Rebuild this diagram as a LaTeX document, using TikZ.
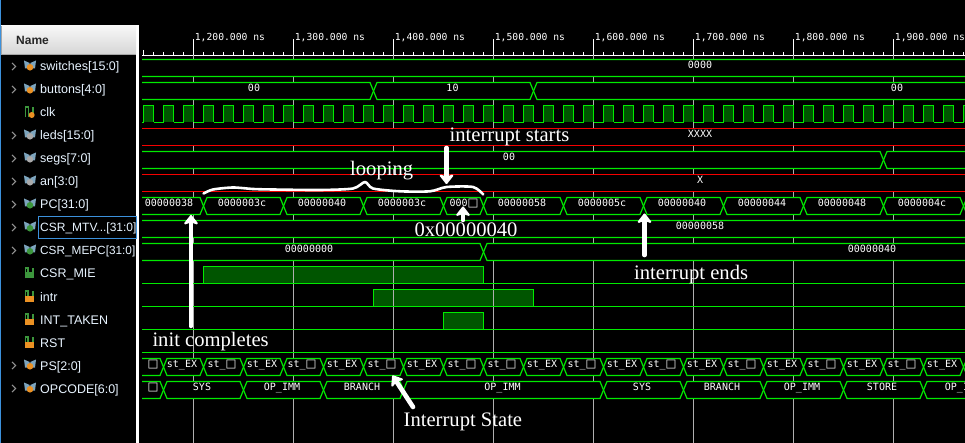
\documentclass[tikz,border=0pt]{standalone}
\usepackage{fontspec}
\setmainfont{Liberation Sans}
\newfontfamily\wave{DejaVu Sans Mono}
\newfontfamily\boxf{DejaVu Sans}
\newfontfamily\serifnote{Liberation Serif}
\usetikzlibrary{arrows.meta}
\definecolor{wgreen}{RGB}{0,235,0}
\definecolor{wfill}{RGB}{0,85,0}
\definecolor{wred}{RGB}{245,0,0}
\definecolor{wgrid}{RGB}{175,175,175}
\definecolor{selblue}{RGB}{60,145,220}
\definecolor{namecol}{RGB}{232,244,255}
\definecolor{icobus}{RGB}{125,165,190}
\definecolor{icogreen}{RGB}{60,150,60}
\definecolor{icoorange}{RGB}{235,145,35}
\definecolor{icogray}{RGB}{170,170,170}
\newcommand{\bx}{{\boxf\fontsize{11.5}{11.5}\selectfont □}}
\newcommand{\mtvname}{{\fontsize{12}{12}\selectfont CSR\_MTV{.}{.}{.}[31:0]}}
\newcommand{\mepcname}{{\fontsize{11.8}{12}\selectfont CSR\_MEPC[31:0]}}
\tikzset{
  wire/.style={draw=wgreen,line width=1.2pt},
  pulse/.style={draw=wgreen,line width=1.5pt},
  redwire/.style={draw=wred,line width=1.2pt},
  gridline/.style={draw=wgrid,line width=1pt},
  wlabel/.style={text=white,font=\wave\fontsize{10}{10}\selectfont,inner sep=0pt,anchor=base},
  ticklabel/.style={text=white,font=\wave\fontsize{9.7}{10}\selectfont,inner sep=0pt,anchor=base west},
  signame/.style={text=namecol,font=\fontsize{12.5}{12.5}\selectfont,inner sep=0pt,anchor=base west},
  note/.style={text=white,font=\serifnote\fontsize{20.6}{20.6}\selectfont,inner sep=0pt,anchor=base west},
  notearrow/.style={draw=white,line width=4.6pt,line cap=round,-{Stealth[length=11pt,width=17pt,inset=3pt,round]}},
  chev/.style={draw=gray!85,line width=1.1pt},
}
\newcommand{\busicon}[2]{%
  \fill[icobus] (24,#1-6)--(29.7,#1-3.5)--(29.7,#1+2)--(25,#1+2)--cycle;
  \fill[icobus] (36,#1-6)--(30.3,#1-3.5)--(30.3,#1+2)--(35,#1+2)--cycle;
  \fill[#2] (30,#1+0.8) circle (3.3pt);
}
\newcommand{\biticon}[2]{%
  \draw[icogreen,line width=1.1pt] (25.5,#1+5)--(25.5,#1-5.5)--(28,#1-5.5)--(28,#1+5);
  \draw[icogreen,line width=1.1pt] (33,#1+5)--(33,#1-5.5);
  \fill[#2] (25,#1-1) rectangle (34,#1+5);
}
\newcommand{\clkicon}[1]{%
  \draw[icogreen,line width=1.1pt] (25.5,#1+5)--(25.5,#1-5.5)--(28.7,#1-5.5)--(28.7,#1+5);
  \draw[icogreen,line width=1.1pt] (33,#1+2)--(33,#1-5.5);
  \fill[icoorange] (31.7,#1+2.5) circle (3pt);
}
\newcommand{\chevron}[1]{\draw[chev] (12,#1-3.6)--(15.6,#1)--(12,#1+3.6);}
% one stretch of a bus: from x=#1 to x=#2, in the row whose upper line is at y=#3
\newcommand{\seg}[3]{%
  \draw[wire] (#1+3.5,#3)--(#2-3.5,#3)--(#2,#3+8.5)--(#2-3.5,#3+17)--(#1+3.5,#3+17)--(#1,#3+8.5)--cycle;
}
\newcommand{\rowmask}[1]{\fill[black] (142,#1) rectangle (965,#1+17);}
\begin{document}
\begin{tikzpicture}[x=1pt,y=-1pt]
\useasboundingbox (0,0) rectangle (965,443);
\fill[black] (0,0) rectangle (965,443);
\clip (0,0) rectangle (965,443);

% ---------- waveform area
\begin{scope}
\clip (142,0) rectangle (965,443);

% time ruler
\draw[white,line width=1pt] (142,55.5)--(965,55.5);
\foreach \k in {0,...,82}{
  \pgfmathsetmacro\tx{143.5+10*\k}
  \draw[white,line width=1pt] (\tx,52)--(\tx,55.5);
}
\foreach \k in {0,...,8}{
  \pgfmathsetmacro\tx{143.5+100*\k}
  \draw[white,line width=1pt] (\tx,50)--(\tx,55.5);
}
\foreach \tx/\lab [count=\n] in {193.5/{1,200.000 ns},293.5/{1,300.000 ns},393.5/{1,400.000 ns},493.5/{1,500.000 ns},593.5/{1,600.000 ns},693.5/{1,700.000 ns},793.5/{1,800.000 ns},893.5/{1,900.000 ns}}{
  \draw[white,line width=1pt] (\tx,39)--(\tx,55.5);
  \node[ticklabel] (tick\n) at (\tx+1.2,41) {\lab};
}

% fills of the one-bit signals
\foreach \k in {0,...,41}{
  \pgfmathsetmacro\px{143.5+20*\k}
  \fill[wfill] (\px,105.5) rectangle (\px+10,122.5);
}
\fill[wfill] (203.5,266.5) rectangle (483.5,283.5);
\fill[wfill] (373.5,289.5) rectangle (533.5,306.5);
\fill[wfill] (443.5,312.5) rectangle (483.5,329.5);

% grid
\foreach \tx in {193.5,293.5,393.5,493.5,593.5,693.5,793.5,893.5}{
  \draw[gridline] (\tx,55.5)--(\tx,443);
}

% masks: bus rows hide the grid
\foreach \ty in {59.5,82.5,128.5,151.5,174.5,197.5,220.5,243.5,358.5,381.5}{\rowmask{\ty}}

% one-bit signals
\foreach \k in {0,...,41}{
  \pgfmathsetmacro\px{143.5+20*\k}
  \draw[pulse] (\px-10,122.5)--(\px,122.5)--(\px,105.5)--(\px+10,105.5)--(\px+10,122.5);
}
\draw[wire] (142,283.5)--(965,283.5);
\draw[pulse] (203.5,283.5)--(203.5,266.5)--(483.5,266.5)--(483.5,283.5);
\draw[wire] (142,306.5)--(965,306.5);
\draw[pulse] (373.5,306.5)--(373.5,289.5)--(533.5,289.5)--(533.5,306.5);
\draw[wire] (142,329.5)--(965,329.5);
\draw[pulse] (443.5,329.5)--(443.5,312.5)--(483.5,312.5)--(483.5,329.5);
\draw[wire] (142,352.5)--(965,352.5);

% red rows
\draw[redwire] (142,128.5)--(965,128.5);
\draw[redwire] (142,145.5)--(965,145.5);
\draw[redwire] (142,174.5)--(965,174.5);
\draw[redwire] (142,191.5)--(965,191.5);

% buses
\seg{100}{1000}{59.5}
\seg{100}{373.5}{82.5}
\seg{373.5}{533.5}{82.5}
\seg{533.5}{1000}{82.5}
\seg{100}{883.5}{151.5}
\seg{883.5}{1000}{151.5}
\foreach \a/\b in {100/203.5,203.5/283.5,283.5/363.5,363.5/443.5,443.5/483.5,483.5/563.5,563.5/643.5,643.5/723.5,723.5/803.5,803.5/883.5,883.5/963.5,963.5/1100}{\seg{\a}{\b}{197.5}}
\seg{100}{1000}{220.5}
\seg{100}{483.5}{243.5}
\seg{483.5}{1000}{243.5}
\foreach \a in {163.5,203.5,...,963.5}{
  \pgfmathsetmacro\b{\a+40}
  \seg{\a}{\b}{358.5}
}
\seg{100}{163.5}{358.5}
\foreach \a/\b in {100/163.5,163.5/243.5,243.5/323.5,323.5/403.5,403.5/603.5,603.5/683.5,683.5/763.5,763.5/843.5,843.5/923.5,923.5/1100}{\seg{\a}{\b}{381.5}}

% bus values
\node[wlabel] (vsw) at (700,68.5) {0000};
\node[wlabel] (vbt1) at (254,91.5) {00};
\node[wlabel] (vbt2) at (452.5,91.5) {10};
\node[wlabel] (vbt3) at (897,91.5) {00};
\node[wlabel] (vled) at (700,137.5) {XXXX};
\node[wlabel] (vseg) at (509,160.5) {00};
\node[wlabel] (van) at (700,183.5) {X};
\foreach \tx/\lab [count=\n] in {169/00000038,242/0000003c,322/00000040,402/0000003c,464/000\bx,522/00000058,602/0000005c,682/00000040,762/00000044,842/00000048,922/0000004c}{
  \node[wlabel] (vpc\n) at (\tx,206.5) {\lab};
}
\node[wlabel] (vmtv) at (700,229.5) {00000058};
\node[wlabel] (vmepc1) at (309,252.5) {00000000};
\node[wlabel] (vmepc2) at (872,252.5) {00000040};
\foreach \tx/\lab [count=\n] in {153/\bx,182/st\_EX,222/st\_\bx,262/st\_EX,302/st\_\bx,342/st\_EX,382/st\_\bx,422/st\_EX,462/st\_\bx,502/st\_\bx,542/st\_EX,582/st\_\bx,622/st\_EX,662/st\_\bx,702/st\_EX,742/st\_\bx,782/st\_EX,822/st\_\bx,862/st\_EX,902/st\_\bx,942/st\_EX}{
  \node[wlabel] (vps\n) at (\tx,367.5) {\lab};
}
\foreach \tx/\lab [count=\n] in {153/\bx,202/SYS,282/OP\_IMM,362/BRANCH,502.5/OP\_IMM,642/SYS,722/BRANCH,802/OP\_IMM,882/STORE,963/OP\_IMM}{
  \node[wlabel] (vop\n) at (\tx,390.5) {\lab};
}
\end{scope}

% ---------- name panel
\fill[white] (136,25) rectangle (139,443);
\fill[selblue] (0,0) rectangle (1,443);
\draw[white,line width=1pt] (1,25.5)--(139,25.5);
\shade[top color=white!97!black,bottom color=white!84!black] (2,26) rectangle (136,54);
\draw[gray!70,line width=1pt] (1.5,26)--(1.5,54.5)--(136,54.5);
\node[inner sep=0pt,anchor=base west,text=black!85,font=\bfseries\fontsize{12}{12}\selectfont] (hdr) at (16,45) {Name};
\draw[selblue,line width=1pt] (38.5,216.5) rectangle (136,238.5);

\foreach \c/\lab [count=\n] in {66.5/switches[15:0],89.5/buttons[4:0],112.5/clk,135.5/leds[15:0],158.5/segs[7:0],181.5/an[3:0],204.5/PC[31:0],227.5/\mtvname,250.5/\mepcname,273.5/CSR\_MIE,296.5/intr,319.5/INT\_TAKEN,342.5/RST,365.5/PS[2:0],388.5/OPCODE[6:0]}{
  \node[signame] (name\n) at (40,\c+4.5) {\lab};
}
\foreach \c in {66.5,89.5,135.5,158.5,181.5,204.5,227.5,250.5,365.5,388.5}{\chevron{\c}}
\busicon{66.5}{icoorange}
\busicon{89.5}{icoorange}
\clkicon{112.5}
\busicon{135.5}{icogray}
\busicon{158.5}{icogray}
\busicon{181.5}{icogray}
\busicon{204.5}{icogreen}
\busicon{227.5}{icogreen}
\busicon{250.5}{icogreen}
\biticon{273.5}{icogreen}
\biticon{296.5}{icoorange}
\biticon{319.5}{icoorange}
\biticon{342.5}{icoorange}
\busicon{365.5}{icoorange}
\busicon{388.5}{icoorange}

% ---------- hand-drawn annotations
\node[note] (nstart) at (449.5,142) {interrupt starts};
\node[note] (nloop) at (350,175.5) {looping};
\node[note] (naddr) at (414.3,236.7) {0x00000040};
\node[note] (nends) at (634,279.3) {interrupt ends};
\node[note] (ninit) at (152.3,346.7) {init completes};
\node[note] (nstate) at (403.5,426.7) {Interrupt State};

\coordinate (a1s) at (191,326); \coordinate (a1t) at (191,215);
\coordinate (a2s) at (446.5,148); \coordinate (a2t) at (446.5,184);
\coordinate (a3s) at (463,220); \coordinate (a3t) at (463,206.5);
\coordinate (a4s) at (644.5,255); \coordinate (a4t) at (644.5,213.5);
\coordinate (a5s) at (413,407); \coordinate (a5t) at (392.5,375.5);
\draw[notearrow] (a1s)--(a1t);
\draw[notearrow] (a2s)--(a2t);
\draw[notearrow] (a3s)--(a3t);
\draw[notearrow] (a4s)--(a4t);
\draw[notearrow] (a5s)--(a5t);
\draw[white,line width=2.6pt,line cap=round,line join=round] plot[smooth,tension=0.45] coordinates {(203.5,193.5)(213,189.5)(233,187.5)(253,189)(273,189.5)(320,190)(353,188.5)(365,182)(373,188.5)(400,191.3)(430,191.3)(446.7,187)(473,187)(483.3,194.5)};
\end{tikzpicture}
\end{document}
